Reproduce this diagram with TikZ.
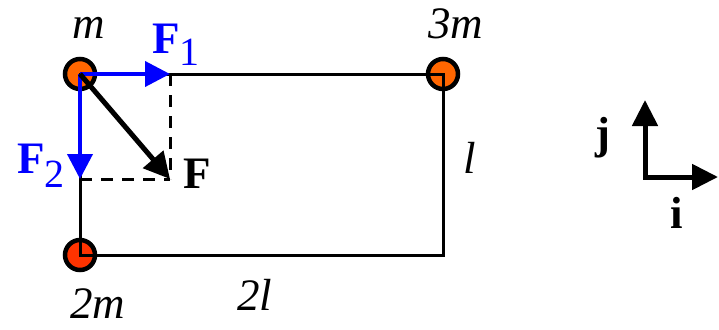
\documentclass[tikz,border=0pt]{standalone}
\usepackage{fontspec}
\setmainfont{Liberation Serif}
\usetikzlibrary{arrows.meta}
\definecolor{morange}{RGB}{255,102,0}
\definecolor{mred}{RGB}{255,51,0}
\definecolor{fblue}{RGB}{0,0,255}
\begin{document}
\begin{tikzpicture}[x=1pt,y=-1pt,
  lbl/.style={anchor=base west,inner sep=0pt,font=\fontsize{45}{54}\selectfont},
  mass/.style={circle,draw=black,line width=4.5pt,minimum size=30pt,inner sep=0pt},
  frame/.style={line width=3pt,black,line join=miter},
  comp/.style={line width=4pt,fblue,-{Triangle[length=25pt,width=25pt]}},
  res/.style={line width=5pt,black,-{Triangle[length=26pt,width=26pt]}},
  guide/.style={line width=3pt,black,dash pattern=on 12pt off 9pt},
  axis/.style={line width=5pt,black,line join=miter,{Triangle[length=26pt,width=25pt]}-{Triangle[length=26pt,width=25pt]}}]
\useasboundingbox (0,0) rectangle (719,329);
% masses
\node[mass,fill=morange] (M1) at (80,74) {};
\node[mass,fill=morange] (M3) at (443,74) {};
\node[mass,fill=mred] (M2) at (80,255) {};
\coordinate (C) at (443,255);
\draw[frame] (M1.center) -- (M3.center) -- (C) -- (M2.center) -- cycle;
% force construction
\coordinate (P1) at (170,74);
\coordinate (P2) at (80,179);
\coordinate (P) at (170,179);
\draw[guide] (P1) -- (P);
\draw[guide] (P2) -- (P);
\draw[comp] (M1.center) -- (P1);
\draw[comp] (M1.center) -- (P2);
\draw[res] (M1.center) -- (P);
% axes
\coordinate (O) at (645,177);
\coordinate (Yt) at (645,100);
\coordinate (Xt) at (718,177);
\draw[axis] (Yt) -- (O) -- (Xt);
% labels
\node[lbl] (lm) at (72,38) {\itshape m};
\node[lbl] (l3m) at (428,38) {\itshape 3m};
\node[lbl] (l2m) at (70,318) {\itshape 2m};
\node[lbl] (l2l) at (237,310) {\itshape 2l};
\node[lbl] (ll) at (463,173) {\itshape l};
\node[lbl] (lF) at (183,188) {\bfseries F};
\node[lbl,text=fblue] (lF1) at (152,53) {\bfseries F\raisebox{-12pt}{\fontsize{40}{40}\selectfont\mdseries 1}};
\node[lbl,text=fblue] (lF2) at (17,173) {\bfseries F\raisebox{-14pt}{\fontsize{40}{40}\selectfont\mdseries 2}};
\node[lbl] (lj) at (595,148) {\bfseries j};
\node[lbl] (li) at (670,228) {\bfseries i};
\end{tikzpicture}
\end{document}
